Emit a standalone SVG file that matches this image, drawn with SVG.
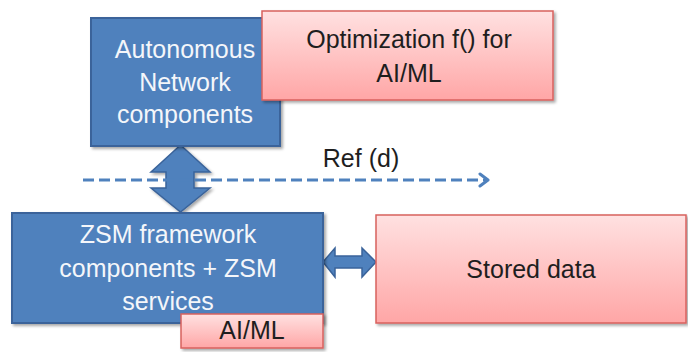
<svg xmlns="http://www.w3.org/2000/svg" width="688" height="352" viewBox="0 0 688 352">
  <defs>
    <linearGradient id="pinkFill" x1="0" y1="0" x2="0" y2="1">
      <stop offset="0" stop-color="#FFE1E1"/>
      <stop offset="1" stop-color="#FFA6A6"/>
    </linearGradient>
    <filter id="shadow" x="-10%" y="-10%" width="125%" height="130%">
      <feGaussianBlur in="SourceAlpha" stdDeviation="1.5"/>
      <feOffset dx="1.5" dy="2" result="blur"/>
      <feComponentTransfer><feFuncA type="linear" slope="0.35"/></feComponentTransfer>
      <feMerge><feMergeNode/><feMergeNode in="SourceGraphic"/></feMerge>
    </filter>
    <marker id="chevron" viewBox="0 0 12 16" refX="10" refY="8" markerWidth="12" markerHeight="16" markerUnits="userSpaceOnUse" orient="auto">
      <path d="M2,2 L10,8 L2,14" fill="none" stroke="#4F81BD" stroke-width="3" stroke-linecap="round" stroke-linejoin="round"/>
    </marker>
    <style>
      .blue { fill: #4F81BD; stroke: #3A639A; stroke-width: 2; }
      .pink { fill: url(#pinkFill); stroke: #D8615E; stroke-width: 1.5; }
      .arrow { fill: #4F81BD; stroke: #3A639A; stroke-width: 1.5; stroke-linejoin: miter; }
      text { font-family: "Liberation Sans", Arial, sans-serif; font-size: 25px; text-anchor: middle; }
      .light { fill: #F4F6FA; }
      .dark { fill: #1E1E1E; }
    </style>
  </defs>

  <!-- connectors -->
  <g id="connectors">
    <!-- up/down block arrow between the two blue nodes -->
    <polygon class="arrow" points="180.5,145 210,172 194,172 194,188 210,188 180.5,212 151,188 166,188 166,172 151,172" filter="url(#shadow)"/>
    <!-- left/right block arrow to stored data -->
    <polygon class="arrow" points="323,262 335,248 335,256 362,256 362,248 376,262 362,277 362,268 335,268 335,277"/>
    <!-- reference point (d) -->
    <line x1="83" y1="180" x2="488" y2="180" stroke="#4F81BD" stroke-width="3" stroke-dasharray="11,5" marker-end="url(#chevron)"/>
    <text class="dark" x="361" y="167" font-size="24">Ref (d)</text>
  </g>

  <g id="autonomous-network">
    <rect class="blue" x="91" y="18" width="189" height="128" filter="url(#shadow)"/>
    <text class="light" x="185" y="58">Autonomous</text>
    <text class="light" x="185" y="91">Network</text>
    <text class="light" x="185" y="123">components</text>
  </g>

  <g id="optimization">
    <rect class="pink" x="262" y="11" width="291" height="89" filter="url(#shadow)"/>
    <text class="dark" x="409" y="48" font-size="26">Optimization f() for</text>
    <text class="dark" x="409" y="82" font-size="26">AI/ML</text>
  </g>

  <g id="zsm-framework">
    <rect class="blue" x="12" y="213" width="311" height="110" filter="url(#shadow)"/>
    <text class="light" x="168" y="243">ZSM framework</text>
    <text class="light" x="168" y="277">components + ZSM</text>
    <text class="light" x="168" y="310">services</text>
  </g>

  <g id="ai-ml">
    <rect class="pink" x="181" y="314" width="142" height="34" filter="url(#shadow)"/>
    <text class="dark" x="252" y="339">AI/ML</text>
  </g>

  <g id="stored-data">
    <rect class="pink" x="376" y="215" width="310" height="108" filter="url(#shadow)"/>
    <text class="dark" x="531" y="278">Stored data</text>
  </g>
</svg>
